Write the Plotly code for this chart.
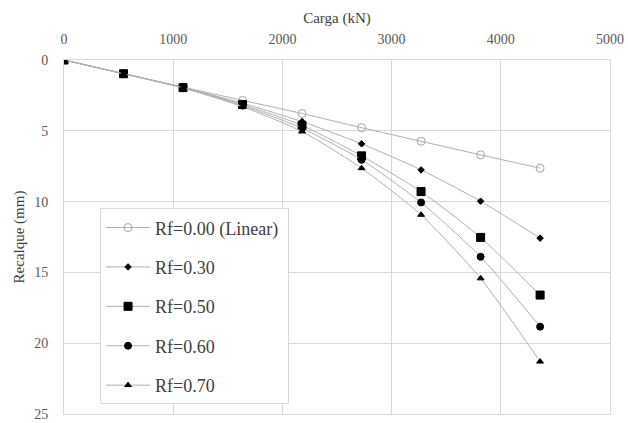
import plotly.graph_objects as go

carga = [0, 545, 1090, 1635, 2180, 2725, 3270, 3815, 4360]
rf000 = [0, 0.95, 1.91, 2.85, 3.78, 4.78, 5.74, 6.70, 7.64]
rf030 = [0, 0.96, 1.94, 3.05, 4.35, 5.92, 7.76, 9.97, 12.58]
rf050 = [0, 0.97, 1.95, 3.15, 4.62, 6.77, 9.29, 12.53, 16.60]
rf060 = [0, 0.97, 1.96, 3.22, 4.82, 7.05, 10.06, 13.90, 18.83]
rf070 = [0, 0.98, 1.97, 3.30, 5.05, 7.64, 10.93, 15.42, 21.30]

names = ["Rf=0.00 (Linear)\u00a0", "Rf=0.30", "Rf=0.50", "Rf=0.60", "Rf=0.70"]
series = [rf000, rf030, rf050, rf060, rf070]
symbols = ["circle-open", "diamond", "square", "circle", "triangle-up"]
sizes = [8, 5, 8, 7, 6]
mcolors = ["#a6a6a6", "black", "black", "black", "black"]

fig = go.Figure()
for i, (nm, ys) in enumerate(zip(names, series)):
    fig.add_trace(go.Scatter(
        x=carga, y=ys, name=nm, mode="lines+markers",
        line=dict(color="#b0b0b0", width=1, shape="spline", smoothing=0.6),
        marker=dict(symbol=symbols[i], size=sizes[i], color=mcolors[i],
                    line=dict(color=mcolors[i], width=1)),
        legendgroup=str(i),
    ))

ff = "Liberation Serif"
fig.update_layout(
    width=628, height=423,
    margin=dict(l=64, r=18, t=60, b=9),
    paper_bgcolor="white", plot_bgcolor="white",
    font=dict(family=ff, size=13, color="#404040"),
    showlegend=True,
    legend=dict(
        x=0.066, y=0.581, xanchor="left", yanchor="top",
        bgcolor="white", bordercolor="#d9d9d9", borderwidth=1,
        font=dict(family=ff, size=18, color="#404040"),
        tracegroupgap=13, itemwidth=44,
    ),
    xaxis=dict(
        side="top", range=[0, 5000], dtick=1000, showgrid=True,
        gridcolor="#d9d9d9", gridwidth=1, zeroline=False,
        showline=True, linecolor="#d9d9d9", mirror=True,
        tickfont=dict(family=ff, size=14, color="#595959"),
        ticklabelstandoff=9, automargin=False,
        title=dict(text="Carga (kN)", font=dict(family=ff, size=15, color="#404040"), standoff=5),
        ticks="",
    ),
    yaxis=dict(
        range=[25, 0], dtick=5, showgrid=True, gridcolor="#d9d9d9", gridwidth=1,
        zeroline=False, showline=True, linecolor="#d9d9d9", mirror=True,
        tickfont=dict(family=ff, size=14, color="#595959"),
        ticklabelstandoff=12, automargin=False,
        title=dict(text="Recalque (mm)", font=dict(family=ff, size=15, color="#404040"), standoff=5),
        ticks="",
    ),
)

fig.write_html("out.html")
